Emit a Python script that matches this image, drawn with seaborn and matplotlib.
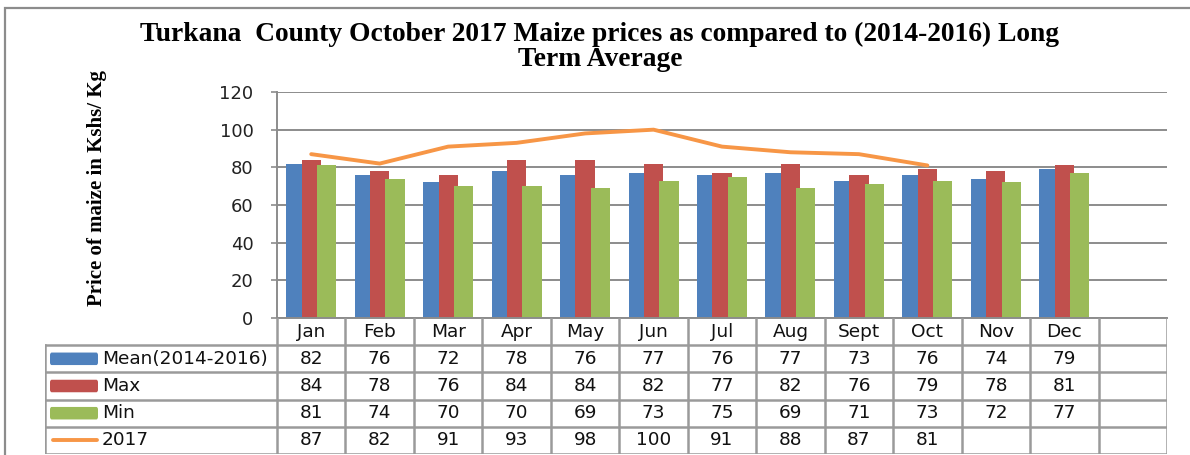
import numpy as np
import pandas as pd
import matplotlib
matplotlib.use('Agg')
import matplotlib.pyplot as plt
from matplotlib.patches import Rectangle, FancyBboxPatch
import seaborn as sns

# data
months = ['Jan', 'Feb', 'Mar', 'Apr', 'May', 'Jun', 'Jul', 'Aug', 'Sept', 'Oct', 'Nov', 'Dec']
mean_vals = [82, 76, 72, 78, 76, 77, 76, 77, 73, 76, 74, 79]
max_vals = [84, 78, 76, 84, 84, 82, 77, 82, 76, 79, 78, 81]
min_vals = [81, 74, 70, 70, 69, 73, 75, 69, 71, 73, 72, 77]
y2017 = [87, 82, 91, 93, 98, 100, 91, 88, 87, 81]
series_names = ['Mean(2014-2016)', 'Max', 'Min']
line_name = '2017'
yticks = [0, 20, 40, 60, 80, 100, 120]

colors = {'Mean(2014-2016)': '#4F81BD', 'Max': '#C0504D', 'Min': '#9BBB59'}
line_color = '#F79646'
grid_color = '#8C8C8C'
table_color = '#9A9A9A'

df = pd.DataFrame({
    'month': months * 3,
    'series': np.repeat(series_names, len(months)),
    'price': mean_vals + max_vals + min_vals,
})
order = months + ['']  # empty 13th column like the original

sns.set_theme(style='white')
plt.rcParams['font.family'] = ['DejaVu Sans']

W, H = 1190, 455
fig = plt.figure(figsize=(W / 100, H / 100), dpi=100)

# outer chart border (only left and top edges show)
fig.patches.append(Rectangle((5 / W, -0.2), 1.3, (H - 8) / H + 0.2, transform=fig.transFigure,
                             fill=False, edgecolor='#8C8C8C', lw=1.6))

# main plot
ax = fig.add_axes([277 / W, (H - 318) / H, (1167 - 277) / W, (318 - 92) / H])
sns.barplot(data=df, x='month', y='price', hue='series', order=order, hue_order=series_names,
            palette=colors, width=0.675, saturation=1, legend=False, ax=ax)
for p in ax.patches:
    w = p.get_width()
    cx = p.get_x() + w / 2
    p.set_width(w * 1.25)
    p.set_x(cx - w * 1.25 / 2)
    p.set_linewidth(0)

sns.lineplot(x=np.arange(len(y2017)), y=y2017, color=line_color, lw=2.8, ax=ax)

ax.set_xlim(-0.5, len(order) - 0.5)
ax.set_ylim(0, 120)
ax.set_yticks(yticks)
ax.set_xticks([])
ax.set_xlabel('')
ax.set_ylabel('')
ax.yaxis.grid(True, color=grid_color, lw=1.4)
ax.set_axisbelow(True)
for s in ['top', 'right']:
    ax.spines[s].set_visible(False)
for s in ['left', 'bottom']:
    ax.spines[s].set_color(grid_color)
    ax.spines[s].set_linewidth(1.4)
ax.tick_params(axis='y', length=4, width=1.2, color=grid_color, pad=13, labelsize=13,
               labelcolor='#222222', left=True)

# data table below the plot
unit = (1167 - 277) / len(order)
xl = -0.5 - (277 - 45) / unit
ax_t = fig.add_axes([45 / W, (H - 454) / H, (1167 - 45) / W, 136 / H])
ax_t.set_xlim(xl, len(order) - 0.5)
ax_t.set_ylim(5, 0)
ax_t.axis('off')

lkw = dict(color=table_color, lw=1.8, solid_capstyle='projecting')
for k in range(len(order) + 1):
    ax_t.plot([k - 0.5, k - 0.5], [0, 5], **lkw)
ax_t.plot([xl, xl], [1, 5], **lkw)
for r in range(1, 6):
    ax_t.plot([xl, len(order) - 0.5], [r, r], **lkw)

fs = 13.3
for i, m in enumerate(months):
    ax_t.text(i, 0.5, m, ha='center', va='center', fontsize=fs, color='#111111')

rows = [mean_vals, max_vals, min_vals, y2017]
names = series_names + [line_name]
for r, (name, vals) in enumerate(zip(names, rows), start=1):
    for i, v in enumerate(vals):
        ax_t.text(i, r + 0.5, str(v), ha='center', va='center', fontsize=fs, color='#111111')
    kx0 = xl + 5 / unit
    kx1 = xl + 53 / unit
    if name in colors:
        ax_t.add_patch(FancyBboxPatch((kx0, r + 0.27), kx1 - kx0, 0.46,
                                      boxstyle='round,pad=0,rounding_size=0.025',
                                      facecolor=colors[name], edgecolor='none', mutation_aspect=4))
    else:
        ax_t.plot([kx0 + 3 / unit, kx1 - 1 / unit], [r + 0.5, r + 0.5], color=line_color, lw=2.8)
    ax_t.text(xl + 57 / unit, r + 0.5, name, ha='left', va='center', fontsize=fs, color='#111111')

# titles
tkw = dict(ha='center', va='center', fontsize=19.8, fontweight='bold', family='Liberation Serif',
           color='black')
fig.text(600 / W, 1 - 34 / H, 'Turkana  County October 2017 Maize prices as compared to (2014-2016) Long', **tkw)
fig.text(600 / W, 1 - 59 / H, 'Term Average', **tkw)
fig.text(97 / W, 1 - 188 / H, 'Price of maize in Kshs/ Kg', rotation=90, ha='center', va='center',
         fontsize=15, fontweight='bold', family='Liberation Serif', color='black')

fig.savefig('out.png', dpi=100)
